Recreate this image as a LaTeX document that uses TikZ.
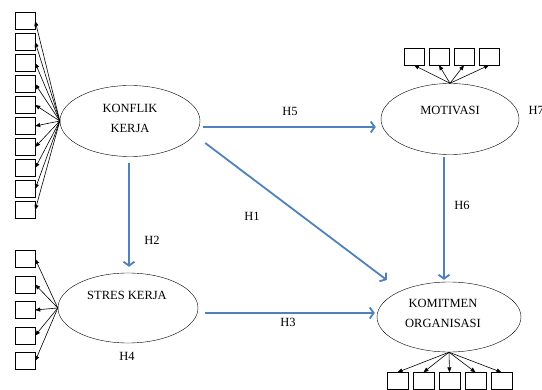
\documentclass[tikz,border=0pt]{standalone}
\usepackage{fontspec}
\setmainfont{Liberation Serif}
\usetikzlibrary{arrows.meta,shapes.geometric}
\definecolor{hblue}{RGB}{79,129,189}
\tikzset{
lat/.style={draw, ellipse, minimum width=140pt, minimum height=71pt, inner sep=0pt},
ind/.style={draw, minimum width=20pt, minimum height=17pt, inner sep=0pt},
ld/.style={-{Triangle[length=5pt,width=4pt]}, line width=0.6pt},
hyp/.style={-{Straight Barb[length=4pt,width=11pt]}, hblue, line width=1.8pt}
}
\begin{document}
\begin{tikzpicture}[x=1pt,y=-1pt,font=\fontsize{12.5}{20}\selectfont]
\useasboundingbox (0,0) rectangle (542,390);
\path
(130,121) node[lat] (K) {}
(130,118) node[align=center] (Kt) {KONFLIK\\KERJA}
(128,308) node[lat, minimum height=70pt] (S) {}
(127,295) node (St) {STRES KERJA}
(450,119) node[lat, minimum width=138pt] (M) {}
(450,110) node (Mt) {MOTIVASI}
(449,317) node[lat, minimum width=144pt, minimum height=70pt] (O) {}
(443,313) node[align=center] (Ot) {KOMITMEN\\ORGANISASI};
%indicators
\foreach \i in {1,...,10} \node[ind] (k\i) at (25,{21*\i}) {};
\foreach \i in {1,...,5} \node[ind] (s\i) at (25,{233.5+25.5*\i}) {};
\foreach \i in {1,...,4} \node[ind] (m\i) at ({389+25*\i},56.5) {};
\foreach \i in {1,...,5} \node[ind, minimum width=21pt] (o\i) at ({371.5+26*\i},381) {};
\foreach \i in {1,...,10} \draw[ld] (K.west) -- (k\i.east);
\foreach \i in {1,...,5} \draw[ld] (S.west) -- (s\i.east);
\foreach \i in {1,...,4} \draw[ld] (M.north) -- (m\i.south);
\foreach \i in {1,...,5} \draw[ld] (O.south) -- (o\i.north);
%hypotheses
\path
(290,111) node (h5) {H5}
(252,216) node (h1) {H1}
(152,240) node (h2) {H2}
(288,322) node (h3) {H3}
(462,205) node (h6) {H6}
(127,356) node (h4) {H4}
(525,110) node[anchor=west] (h7) {H7};
\draw[hyp] ([xshift=3pt,yshift=-6pt]K.east) -- ([xshift=-5pt,yshift=-8pt]M.west);
\draw[hyp] ([xshift=5pt,yshift=-22pt]K.east) -- ([xshift=10pt,yshift=37pt]O.west);
\draw[hyp] ([xshift=-1pt,yshift=-6.5pt]K.south) -- ([xshift=1pt,yshift=6pt]S.north);
\draw[hyp] ([xshift=7pt,yshift=-5pt]S.east) -- ([xshift=-2pt,yshift=4pt]O.west);
\draw[hyp] ([xshift=-6pt,yshift=-2.5pt]M.south) -- ([xshift=-5pt,yshift=2pt]O.north);
\end{tikzpicture}
\end{document}
